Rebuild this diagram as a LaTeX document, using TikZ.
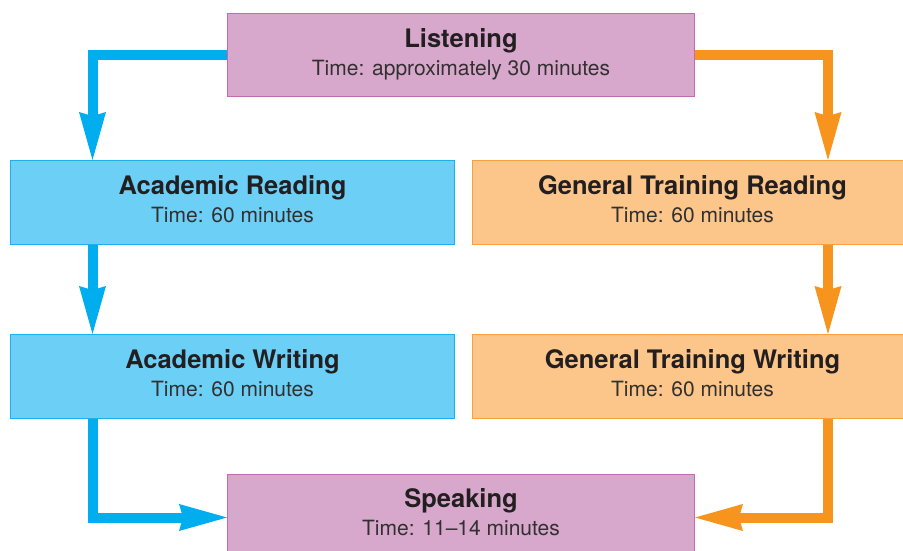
\documentclass[tikz,border=0pt]{standalone}
\usepackage{fontspec}
\setmainfont{TeX Gyre Heros}
\usetikzlibrary{arrows.meta,calc}
\definecolor{lilacf}{HTML}{D8A8CC}
\definecolor{lilacb}{HTML}{C46AAE}
\definecolor{skyf}{HTML}{6CCFF6}
\definecolor{skyb}{HTML}{1BB1EC}
\definecolor{skyl}{HTML}{00AEEF}
\definecolor{orf}{HTML}{FCC68A}
\definecolor{orb}{HTML}{F7A13A}
\definecolor{orl}{HTML}{F7941D}
\definecolor{ink}{HTML}{231F20}
\definecolor{inksub}{HTML}{333031}
\begin{document}
\begin{tikzpicture}[x=1pt,y=-1pt,
  boxbase/.style={rectangle, anchor=north west, inner sep=0pt, line width=1pt},
  pbox/.style={boxbase, draw=lilacb, fill=lilacf},
  bbox/.style={boxbase, draw=skyb, fill=skyf},
  obox/.style={boxbase, draw=orb, fill=orf},
  ttl/.style={anchor=base, inner sep=0pt, text=ink, font=\fontsize{25.5}{30}\selectfont\bfseries},
  sub/.style={anchor=base, inner sep=0pt, text=inksub, font=\fontsize{21}{25}\selectfont},
  conn/.style={line width=10pt, line join=miter,
    -{Stealth[length=48pt,width=27pt,inset=4pt,line width=0pt]}},
  bconn/.style={conn, draw=skyl},
  oconn/.style={conn, draw=orl}]
\path[use as bounding box, clip] (0,0) rectangle (903,551);
\coordinate (bx) at (92.5,0);
\coordinate (ox) at (828,0);
% boxes
\node[pbox, minimum width=467pt, minimum height=83.5pt] (L) at (227,13) {};
\node[bbox, minimum width=444pt, minimum height=83.5pt] (AR) at (10,160) {};
\node[obox, minimum width=440pt, minimum height=83.5pt] (GR) at (472,160) {};
\node[bbox, minimum width=444pt, minimum height=83.5pt] (AW) at (10,334) {};
\node[obox, minimum width=440pt, minimum height=83.5pt] (GW) at (472,334) {};
\node[pbox, minimum width=467pt, minimum height=86pt] (S) at (227,474) {};
% texts
\node[ttl] (Lt) at ($(L.north)+(0,34.5)$) {Listening};
\node[sub] (Ls) at ($(L.north)+(0,62.5)$) {Time: approximately 30 minutes};
\node[ttl] (ARt) at ($(AR.north)+(0,34.5)$) {Academic Reading};
\node[sub] (ARs) at ($(AR.north)+(0,62.5)$) {Time: 60 minutes};
\node[ttl] (GRt) at ($(GR.north)+(0,34.5)$) {General Training Reading};
\node[sub] (GRs) at ($(GR.north)+(0,62.5)$) {Time: 60 minutes};
\node[ttl] (AWt) at ($(AW.north)+(0,34.5)$) {Academic Writing};
\node[sub] (AWs) at ($(AW.north)+(0,62.5)$) {Time: 60 minutes};
\node[ttl] (GWt) at ($(GW.north)+(0,34.5)$) {General Training Writing};
\node[sub] (GWs) at ($(GW.north)+(0,62.5)$) {Time: 60 minutes};
\node[ttl] (St) at ($(S.north)+(0,33.5)$) {Speaking};
\node[sub] (Ss) at ($(S.north)+(0,61.5)$) {Time: 11–14 minutes};
% connectors
\draw[bconn] (L.west) -| (bx |- AR.north);
\draw[bconn] (bx |- AR.south) -- (bx |- AW.north);
\draw[bconn] (bx |- AW.south) |- (S.west);
\draw[oconn] (L.east) -| (ox |- GR.north);
\draw[oconn] (ox |- GR.south) -- (ox |- GW.north);
\draw[oconn] (ox |- GW.south) |- (S.east);
\end{tikzpicture}
\end{document}
